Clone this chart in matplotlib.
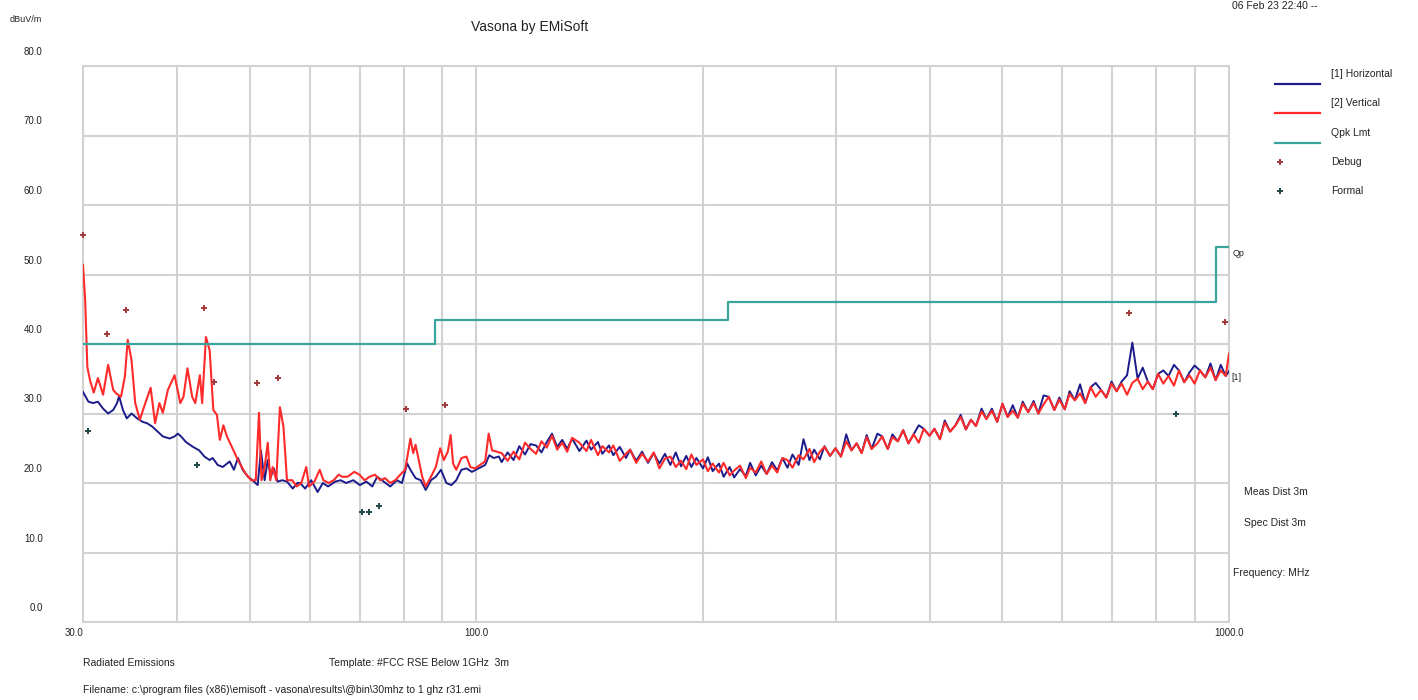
import matplotlib
matplotlib.use("Agg")
import matplotlib.pyplot as plt
from matplotlib.lines import Line2D
from matplotlib.transforms import ScaledTranslation

plt.rcParams['font.family'] = ['Liberation Sans', 'DejaVu Sans']

# ---- data (MHz, dBuV/m) ----
# low band, vertical polarisation
vert_lo_f = [30.0, 30.2, 30.4, 30.65, 31.0, 31.4, 31.9, 32.4, 32.9, 33.2,
             33.7, 34.1, 34.4, 34.8, 35.2, 35.7, 36.3, 36.9, 37.4, 37.9,
             38.3, 38.9, 39.7, 40.4, 40.8, 41.3, 41.9, 42.3, 42.9, 43.2,
             43.7, 44.2, 44.7, 45.2, 45.6, 46.1, 46.6, 47.3, 48.2, 49.3,
             50.2, 50.9, 51.4, 51.8, 52.3, 52.8, 53.2, 53.6, 54.2, 54.8,
             55.4, 56.0, 56.9, 57.7, 58.5, 59.4, 59.9, 60.9, 61.9, 62.6,
             63.6, 64.6, 65.6, 66.3, 67.4, 68.8, 69.9, 71.0, 72.1, 73.3,
             74.5, 75.6, 76.8, 78.0, 79.2, 80.4, 81.7, 82.4, 83.0, 83.8,
             84.7, 85.6, 87.0, 88.3, 89.5, 90.5, 91.6, 92.4, 93.1, 94.0,
             95.5, 97.0, 98.1, 99.6, 101.7, 102.7, 103.8, 104.9, 106.5]
vert_lo_v = [51.4, 46.3, 36.7, 34.8, 33.0, 35.1, 32.7, 37.0, 33.4, 32.9,
             32.4, 35.3, 40.6, 37.7, 31.5, 29.1, 31.5, 33.7, 28.6, 31.5,
             30.1, 33.4, 35.5, 31.5, 32.4, 36.5, 32.4, 31.5, 35.5, 31.5,
             41.0, 39.1, 30.5, 29.8, 26.2, 28.3, 26.7, 25.2, 23.3, 21.4,
             20.4, 20.4, 30.1, 20.4, 22.3, 25.8, 20.4, 22.3, 20.4, 30.9,
             28.1, 20.4, 20.4, 19.5, 20.0, 22.3, 19.5, 20.2, 21.9, 20.4,
             20.0, 20.4, 21.2, 20.9, 20.9, 21.6, 21.2, 20.4, 20.9, 21.2,
             20.4, 20.7, 20.0, 20.4, 21.2, 21.9, 26.4, 24.3, 25.5, 23.3,
             20.9, 19.5, 20.9, 22.3, 25.0, 23.3, 24.5, 26.9, 22.8, 21.9,
             23.6, 23.8, 22.3, 22.1, 22.8, 23.1, 27.1, 24.7, 24.5]

# low band, horizontal polarisation
horiz_lo_f = [30.0, 30.5, 30.95, 31.4, 31.9, 32.4, 32.9, 33.3, 33.5, 33.9,
              34.3, 34.8, 35.4, 36.0, 36.5, 37.1, 37.7, 38.3, 39.1, 39.7,
              40.1, 40.5, 41.1, 42.0, 42.8, 43.5, 44.2, 44.6, 45.3, 46.0,
              47.0, 47.6, 48.2, 48.9, 49.7, 50.4, 51.2, 51.7, 52.3, 52.8,
              53.3, 53.8, 54.4, 55.2, 56.0, 57.0, 57.8, 58.3, 59.2, 60.3,
              61.5, 62.5, 63.5, 64.9, 66.0, 67.1, 68.6, 70.0, 71.4, 72.7,
              73.8, 75.3, 76.8, 78.4, 79.6, 80.9, 81.7, 83.0, 84.3, 85.6,
              87.0, 88.3, 89.7, 91.2, 92.6, 94.0, 95.5, 97.0, 98.6, 100.6,
              102.7, 104.0, 105.4, 107.1]
horiz_lo_v = [33.1, 31.7, 31.5, 31.7, 30.7, 30.0, 30.5, 31.5, 32.5, 30.5,
              29.3, 30.0, 29.3, 28.8, 28.6, 28.1, 27.4, 26.7, 26.4, 26.7,
              27.1, 26.7, 25.9, 25.2, 24.7, 23.8, 23.3, 23.6, 22.6, 22.3,
              23.1, 21.9, 23.6, 21.9, 20.9, 20.4, 19.7, 24.7, 20.4, 23.3,
              20.9, 22.1, 20.2, 20.4, 20.2, 19.2, 20.0, 20.0, 19.2, 20.4,
              18.7, 20.0, 19.5, 20.2, 20.4, 20.0, 20.4, 19.7, 20.2, 19.5,
              20.9, 20.2, 19.5, 20.4, 20.0, 22.8, 21.9, 20.7, 20.4, 19.0,
              20.4, 20.9, 21.9, 20.0, 19.7, 20.4, 21.9, 22.1, 21.6, 22.1,
              22.6, 24.0, 23.6, 23.8]

# upper band sweep points shared by both polarisations
sweep_hi_f = [108, 110, 112, 114, 116, 118, 120, 122, 124, 126,
              128, 130, 132, 134, 137, 140, 142, 145, 147, 150,
              152, 155, 158, 160, 163, 166, 169, 172, 175, 178,
              181, 184, 187, 190, 193, 196, 200, 203, 206, 210,
              213, 217, 220, 224, 228, 231, 235, 239, 243, 247,
              251, 255, 259, 263, 268, 272, 277, 281, 286, 290,
              295, 300, 305, 310, 315, 320, 325, 330, 335, 341,
              346, 352, 357, 363, 369, 375, 381, 387, 393, 400,
              406, 413, 419, 426, 433, 440, 447, 454, 461, 469,
              476, 484, 492, 500, 508, 516, 524, 532, 541, 550,
              558, 567, 576, 586, 595, 605, 614, 624, 634, 644,
              655, 665, 676, 687, 698, 709, 720, 732, 744, 756,
              768, 780, 792, 805, 818, 831, 845, 858, 872, 886,
              900, 915, 930, 945, 960, 975, 990, 1000]
vert_hi_v = [24.3, 23.2, 24.5, 23.4, 25.8, 24.9, 24.2, 26.0, 25.1, 26.8,
             24.8, 25.8, 24.5, 26.5, 25.8, 24.6, 26.2, 24.0, 25.3, 24.4,
             25.4, 23.2, 24.2, 24.8, 22.9, 24.2, 23.1, 24.4, 22.1, 23.5,
             23.8, 22.3, 23.2, 22.0, 24.1, 22.6, 23.4, 21.7, 22.8, 21.5,
             22.9, 21.1, 21.8, 22.5, 20.7, 22.2, 21.5, 23.1, 21.3, 22.5,
             21.5, 23.6, 23.3, 22.2, 24.0, 23.4, 24.9, 23.0, 24.5, 25.2,
             23.9, 25.0, 23.8, 26.0, 24.7, 25.7, 24.3, 26.6, 24.9, 25.7,
             26.7, 24.9, 26.6, 26.0, 27.6, 25.7, 27.0, 25.8, 27.8, 26.8,
             27.8, 26.3, 28.7, 27.4, 28.3, 29.5, 27.7, 29.1, 28.2, 30.3,
             29.2, 30.4, 28.8, 31.4, 29.5, 30.4, 29.4, 31.4, 30.2, 31.5,
             30.0, 31.3, 32.4, 30.5, 32.0, 30.6, 32.8, 31.9, 32.9, 31.5,
             33.8, 32.4, 33.4, 32.3, 34.3, 33.2, 34.3, 32.7, 34.4, 35.0,
             33.5, 34.6, 33.5, 35.7, 34.3, 35.4, 34.0, 36.2, 34.5, 35.5,
             34.3, 36.2, 35.2, 36.6, 34.8, 36.2, 35.4, 38.6]
horiz_hi_v = [23.0, 24.4, 23.3, 25.3, 24.1, 25.6, 25.4, 24.4, 25.9, 27.1,
              25.2, 26.2, 24.9, 26.4, 24.6, 26.1, 24.8, 25.9, 24.2, 25.4,
              24.0, 25.2, 23.6, 24.8, 23.2, 24.5, 22.9, 24.3, 22.8, 24.2,
              22.6, 24.4, 22.4, 23.9, 22.3, 23.6, 22.1, 23.7, 21.7, 22.8,
              20.9, 22.3, 20.8, 22.0, 21.0, 22.9, 21.1, 22.5, 21.3, 23.0,
              21.8, 23.6, 22.2, 24.1, 22.6, 26.3, 23.3, 24.8, 23.4, 25.3,
              23.9, 25.0, 23.8, 27.0, 24.7, 25.7, 24.3, 26.9, 24.9, 27.1,
              26.7, 24.9, 27.0, 26.0, 27.6, 25.7, 27.0, 28.3, 27.8, 26.8,
              27.8, 26.3, 29.0, 27.4, 28.3, 29.8, 27.7, 29.1, 28.2, 30.7,
              29.2, 30.7, 28.8, 31.4, 29.5, 31.2, 29.4, 31.7, 30.2, 31.8,
              30.0, 32.6, 32.4, 30.5, 32.3, 30.6, 33.2, 31.9, 34.2, 31.5,
              33.8, 34.4, 33.4, 32.3, 34.6, 33.2, 34.6, 35.5, 40.2, 35.0,
              36.6, 34.6, 33.5, 35.7, 36.2, 35.4, 37.0, 36.2, 34.5, 35.9,
              36.9, 36.2, 35.2, 37.2, 34.8, 37.0, 35.4, 36.1]

# FCC quasi-peak limit (band edges, level from each edge on)
limit_f = [30, 88, 216, 960, 1000]
limit_v = [40.0, 43.5, 46.0, 54.0, 54.0]

debug_f = [30.0, 32.3, 34.2, 43.5, 44.8, 51.1, 54.5, 80.6, 90.8, 736.5, 988]
debug_v = [55.7, 41.4, 44.9, 45.2, 34.5, 34.4, 35.1, 30.6, 31.2, 44.5, 43.2]
formal_f = [30.5, 42.5, 70.4, 72.0, 74.3, 850.5]
formal_v = [27.5, 22.6, 15.8, 15.8, 16.7, 30.0]

y_ticks = [0, 10, 20, 30, 40, 50, 60, 70, 80]
x_grid = [30, 40, 50, 60, 70, 80, 90, 100, 200, 300, 400, 500, 600, 700, 800, 900, 1000]
x_labels = {30: "30.0", 100: "100.0", 1000: "1000.0"}

C_H = '#1c1c8a'
C_V = '#ff2a2a'
C_LIM = '#3aa59c'
C_DBG = '#a33a3a'
C_FRM = '#1f4a4a'
C_GRID = '#d2d2d2'
C_TXT = '#222222'

W, H = 1418, 700


def fx(px):
    return px / W


def fy(py):
    return 1 - py / H


fig = plt.figure(figsize=(W / 100, H / 100), dpi=100)
ax = fig.add_axes([fx(83), fy(622), (1229 - 83) / W, (622 - 66) / H])

ax.plot(horiz_lo_f + sweep_hi_f, horiz_lo_v + horiz_hi_v, color=C_H, lw=1.4, zorder=3)
ax.plot(vert_lo_f + sweep_hi_f, vert_lo_v + vert_hi_v, color=C_V, lw=1.5, zorder=4)
ax.step(limit_f, limit_v, where='post', color=C_LIM, lw=1.6, zorder=5)
ax.plot(debug_f, debug_v, ls='none', marker='+', ms=5, mew=1.4, color=C_DBG,
        zorder=6, clip_on=False)
ax.plot(formal_f, formal_v, ls='none', marker='+', ms=5, mew=1.4, color=C_FRM,
        zorder=6, clip_on=False)

ax.set_xscale('log')
ax.set_xlim(30, 1000)
ax.set_ylim(0, 80)

ax.set_xticks(x_grid)
ax.set_xticklabels([x_labels.get(f, "") for f in x_grid])
ax.xaxis.set_minor_locator(plt.NullLocator())
ax.set_yticks(y_ticks)
ax.set_yticklabels([f"{v:.1f}" for v in y_ticks])
ax.tick_params(axis='both', length=0, labelsize=7, colors=C_TXT)
ax.tick_params(axis='y', pad=29)
ax.tick_params(axis='x', pad=4)
ax.grid(True, color=C_GRID, lw=1.5)
ax.set_axisbelow(True)
for sp in ax.spines.values():
    sp.set_color(C_GRID)
    sp.set_linewidth(1.5)

# tick labels sit above their grid lines in the original
shift = ScaledTranslation(0, 15 / 100, fig.dpi_scale_trans)
for lbl in ax.get_yticklabels():
    lbl.set_transform(lbl.get_transform() + shift)
for lbl in ax.get_xticklabels():
    if lbl.get_text() == "30.0":
        lbl.set_horizontalalignment('right')

# header
fig.text(fx(530), fy(27), "Vasona by EMiSoft", ha='center', va='center', fontsize=10, color=C_TXT)
fig.text(fx(10), fy(20), "dBuV/m", ha='left', va='center', fontsize=6.5, color=C_TXT)
fig.text(fx(1232), fy(6), "06 Feb 23 22:40 --", ha='left', va='center', fontsize=7.5, color=C_TXT)

# legend, drawn by hand to keep the original spacing
leg_rows = [("[1] Horizontal", C_H, 'line', 84),
            ("[2] Vertical", C_V, 'line', 113),
            ("Qpk Lmt", C_LIM, 'line', 143),
            ("Debug", C_DBG, 'mark', 162),
            ("Formal", C_FRM, 'mark', 191)]
for label, col, kind, py in leg_rows:
    if kind == 'line':
        fig.add_artist(Line2D([fx(1275), fx(1320)], [fy(py), fy(py)], color=col, lw=1.6,
                              transform=fig.transFigure))
        fig.text(fx(1331), fy(py - 10), label, ha='left', va='center', fontsize=7.5, color=C_TXT)
    else:
        fig.add_artist(Line2D([fx(1280)], [fy(py)], ls='none', marker='+', ms=5, mew=1.4,
                              color=col, transform=fig.transFigure))
        fig.text(fx(1331), fy(py), label, ha='left', va='center', fontsize=7.5, color=C_TXT)

# right-hand notes
fig.text(fx(1233), fy(253), "Qp", ha='left', va='center', fontsize=6.5, color=C_TXT)
fig.text(fx(1231), fy(378), "[1]", ha='left', va='center', fontsize=6.5, color=C_TXT)
fig.text(fx(1244), fy(492), "Meas Dist 3m", ha='left', va='center', fontsize=7.5, color=C_TXT)
fig.text(fx(1244), fy(523), "Spec Dist 3m", ha='left', va='center', fontsize=7.5, color=C_TXT)
fig.text(fx(1233), fy(573), "Frequency: MHz", ha='left', va='center', fontsize=7.5, color=C_TXT)

# footer
fig.text(fx(83), fy(663), "Radiated Emissions", ha='left', va='center', fontsize=7.5, color=C_TXT)
fig.text(fx(329), fy(663), "Template: #FCC RSE Below 1GHz  3m", ha='left', va='center',
         fontsize=7.5, color=C_TXT)
fig.text(fx(83), fy(690), "Filename: c:\\program files (x86)\\emisoft - vasona\\results\\@bin\\30mhz to 1 ghz r31.emi",
         ha='left', va='center', fontsize=7.5, color=C_TXT)

fig.savefig("out.png", dpi=100)
